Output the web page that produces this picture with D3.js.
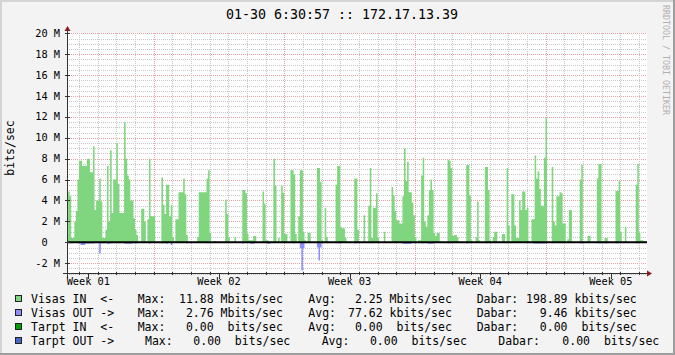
<!DOCTYPE html>
<html>
<head>
<meta charset="utf-8">
<script src="https://cdn.jsdelivr.net/npm/d3@7/dist/d3.min.js"></script>
<style>
  body { margin: 0; background: #f3f3f3; }
  svg text { font-family: "DejaVu Sans Mono", monospace; white-space: pre; }
</style>
</head>
<body>
<div id="chart"></div>
<script>
// traffic in Mbit/s, one value per 2 hours, first step starts 2014-12-30 08:00 UTC
var stepHours = 2;
var startTime = Date.UTC(2014, 11, 30, 8);

var visasIn = [
  0.7,4.85,4.4,0.4,0.4,2.0,3.0,6.0,7.8,7.8,
  7.3,7.3,7.3,8.0,8.0,6.7,6.7,9.2,3.1,4.0,
  4.0,6.1,3.9,0.4,0.4,1.2,7.3,2.0,8.8,2.8,
  6.0,6.0,9.5,5.6,2.8,2.8,2.8,11.5,8.0,6.4,
  6.0,4.0,4.0,2.3,1.2,0.7,0,0,3.2,3.2,
  2.0,0,2.2,8.0,2.5,2.5,2.5,0,0,0,
  0,6.2,3.6,2.7,5.5,5.5,2.5,3.6,0.5,0.1,
  2.2,2.2,4.8,4.8,4.8,6.1,4.6,0.7,0,0,
  0,0,0,0,0.5,4.8,4.8,4.8,4.8,4.8,
  6.1,6.9,0.9,0,0,0.1,0,0,0,0,
  0,0,4.1,2.7,0.5,0,0,0,0.5,0,
  0,0,0,5.0,5.0,4.7,0.8,0.2,0.2,0.2,
  0.6,0.6,0,0,0,0,4.85,3.7,0.2,0.2,
  0,0,0,8.0,5.4,0,0.4,0,5.4,4.75,
  0.8,0.8,0,0,6.9,6.9,6.5,0.8,0,2.5,
  6.9,6.9,1.0,0.2,0,0.9,0.9,0,0,0,
  0,7.1,7.1,5.8,0.2,0,3.3,0.5,0,0,
  0,0,0,5.5,7.3,7.3,1.5,1.35,1.35,0.4,
  0,0,0,0,0,6.1,6.1,1.2,0,0,
  0,2.6,0,0,3.5,7.1,0.4,3.3,3.3,4.7,
  0.4,0,0,0,1.0,0,0,0,0,5.3,
  4.5,3.0,2.1,2.1,1.8,1.8,4.4,9.0,5.9,7.7,
  4.8,4.8,3.8,2.6,0.5,0,0.2,0.2,6.4,8.1,
  2.0,1.5,2.6,5.0,6.0,5.0,0.9,0.6,0.9,0.9,
  0,0,0,0,0,7.9,7.8,7.1,0.6,0.7,
  0.7,0.5,0,0,0,0,0,7.4,7.4,4.5,
  0.2,0,0,0.5,3.9,0.2,0,0,0,7.2,
  7.2,5.0,0.2,0,0.5,1.0,1.0,0,0,0,
  0.8,0.8,0,7.1,1.6,0,4.6,4.6,1.6,0.4,
  0.4,4.05,3.1,4.85,4.85,3.1,3.3,0.1,0,2.2,
  2.2,8.3,6.1,6.8,5.1,3.5,3.5,8.1,11.88,0.1,
  0,0,7.2,2.0,1.6,4.4,4.4,4.8,4.7,1.8,
  1.8,0,0.3,3.1,3.1,0,0,0,0,0,
  6.0,7.4,0,0,0,0.6,0.6,0,0,0,
  0,6.1,7.5,7.5,0,0.1,0.4,0.4,0,0,
  0,0,0,4.9,4.9,5.9,1.0,0,0,1.5,
  0,0,0,0,0,0,5.5,7.5,0.9,0.2,
  0.2,0.1,0.1
];

var visasOut = [
  0.1,0.1,0.1,0.1,0,0,0,0.1,0.1,0.25,
  0.25,0.25,0.12,0.12,0.12,0.12,0.12,0.12,0,0,
  0,1.05,0.1,0.1,0.1,0,0.15,0.15,0.1,0.1,
  0,0,0,0.1,0.1,0,0,0.15,0.15,0.15,
  0.15,0.15,0.1,0.1,0.1,0.1,0,0,0,0,
  0,0,0,0.15,0,0,0,0,0,0,
  0,0.1,0.1,0,0.15,0,0,0.25,0,0,
  0,0,0,0,0,0,0,0.1,0,0,
  0,0,0,0,0,0,0,0,0,0,
  0.1,0.1,0,0,0,0,0,0,0,0,
  0,0,0,0,0,0,0,0,0,0,
  0,0,0,0.1,0,0,0,0,0.15,0.15,
  0.15,0,0,0,0,0,0,0,0,0.15,
  0.15,0,0,0,0,0,0,0,0,0,
  0,0,0,0,0,0.1,0.1,0,0,0,
  0.57,2.71,0.57,0,0,0,0,0,0,0,
  0,0.5,1.75,0.5,0,0,0,0,0,0,
  0,0,0,0.1,0.1,0.1,0,0,0,0,
  0,0,0,0,0,0.1,0.1,0,0,0,
  0,0,0,0,0,0,0.1,0,0,0,
  0,0,0,0,0.05,0,0,0,0,0,
  0,0,0,0,0,0,0.15,0.15,0.15,0.15,
  0.15,0.15,0,0,0,0,0,0,0.1,0.1,
  0,0,0.15,0.15,0.15,0.15,0,0,0,0,
  0,0,0,0,0,0.1,0.1,0,0,0,
  0,0,0,0,0,0,0,0.1,0.1,0,
  0,0,0,0,0,0,0,0,0,0.1,
  0.1,0,0,0,0,0,0,0,0,0,
  0,0,0,0.05,0,0,0,0,0,0,
  0,0,0,0.05,0,0,0,0,0,0,
  0.12,0.12,0.12,0.12,0.12,0.12,0.12,0.12,0.12,0,
  0,0,0.1,0,0,0,0.05,0,0,0,
  0,0,0,0,0,0,0,0,0,0,
  0.1,0.1,0,0,0,0,0,0,0,0,
  0,0.1,0.1,0.1,0,0.1,0.1,0.1,0,0,
  0,0,0,0.1,0.1,0,0,0,0,0,
  0,0,0,0,0,0,0.1,0.1,0,0,
  0,0,0
];

var yTicks = [-2, 0, 2, 4, 6, 8, 10, 12, 14, 16, 18, 20];
var yTickLabels = ["-2 M", "0  ", "2 M", "4 M", "6 M", "8 M", "10 M", "12 M", "14 M", "16 M", "18 M", "20 M"];
var weekLabels = ["Week 01", "Week 02", "Week 03", "Week 04", "Week 05"];

var title = "01-30 6:30:57 :: 172.17.13.39";
var yTitle = "bits/sec";
var watermark = "RRDTOOL / TOBI OETIKER";

var legendNames = ["Visas IN  <-", "Visas OUT ->", "Tarpt IN  <-", "Tarpt OUT ->"];
var legendMax = ["11.88 Mbits/sec", " 2.76 Mbits/sec", " 0.00  bits/sec", " 0.00  bits/sec"];
var legendAvg = [" 2.25 Mbits/sec", "77.62 kbits/sec", " 0.00  bits/sec", " 0.00  bits/sec"];
var legendDabar = ["198.89 kbits/sec", "  9.46 kbits/sec", "  0.00  bits/sec", "  0.00  bits/sec"];

// colours
var inColor = "#7fd67f", outColor = "#8c8cff";
var legendColors = [inColor, outColor, "#00a000", "#4a66c8"];

// layout
var W = 675, H = 355;
var plot = {left: 67, right: 647, top: 33, bottom: 273};

var svg = d3.select("#chart")
  .append("svg")
    .attr("width", W)
    .attr("height", H);

// background with shaded border
svg.append("rect").attr("width", W).attr("height", H).attr("fill", "#f3f3f3");
svg.append("path").attr("d", "M0,0H675V2H2V355H0Z").attr("fill", "#d4d4d4");
svg.append("path").attr("d", "M675,0V355H0V353H673V0Z").attr("fill", "#9e9e9e");

svg.append("rect")
  .attr("x", plot.left).attr("y", plot.top)
  .attr("width", plot.right - plot.left).attr("height", plot.bottom - plot.top)
  .attr("fill", "#ffffff");

var endTime = startTime + visasIn.length * stepHours * 3600e3;
var x = d3.scaleUtc()
  .domain([startTime, endTime])
  .range([66.56, 646.6]);

var y = d3.scaleLinear()
  .domain([-3, 20])
  .range([273.65, 33.3]);

function crisp(v) { return Math.round(v) + 0.5; }

// horizontal grid
var minorY = d3.range(-3, 20.01, 0.5).filter(function(v) { return v % 2 !== 0; });
svg.append("g").selectAll("line").data(minorY).enter().append("line")
  .attr("x1", plot.left).attr("x2", plot.right)
  .attr("y1", function(d) { return crisp(y(d)); })
  .attr("y2", function(d) { return crisp(y(d)); })
  .attr("stroke", "#c8c8c8").attr("stroke-dasharray", "1,1");
svg.append("g").selectAll("line").data(yTicks).enter().append("line")
  .attr("x1", plot.left).attr("x2", plot.right)
  .attr("y1", function(d) { return crisp(y(d)); })
  .attr("y2", function(d) { return crisp(y(d)); })
  .attr("stroke", "#e8a0a0").attr("stroke-dasharray", "1,1");

// vertical grid: days minor, sundays major
var days = d3.utcDay.range(new Date(startTime), new Date(endTime));
var sundays = d3.utcSunday.range(new Date(startTime), new Date(endTime));
svg.append("g").selectAll("line").data(days.filter(function(d) { return d.getUTCDay() !== 0; })).enter().append("line")
  .attr("x1", function(d) { return crisp(x(d)); })
  .attr("x2", function(d) { return crisp(x(d)); })
  .attr("y1", plot.top).attr("y2", plot.bottom)
  .attr("stroke", "#c8c8c8").attr("stroke-dasharray", "1,1");
svg.append("g").selectAll("line").data(sundays).enter().append("line")
  .attr("x1", function(d) { return crisp(x(d)); })
  .attr("x2", function(d) { return crisp(x(d)); })
  .attr("y1", plot.top).attr("y2", plot.bottom)
  .attr("stroke", "#e8a0a0").attr("stroke-dasharray", "1,1");

// areas
svg.append("clipPath").attr("id", "clip")
  .append("rect").attr("x", plot.left + 1).attr("y", plot.top)
  .attr("width", plot.right - plot.left - 1).attr("height", plot.bottom - plot.top);

function steps(values) {
  var pts = values.map(function(v, i) { return {t: startTime + i * stepHours * 3600e3, v: v}; });
  pts.push({t: endTime, v: values[values.length - 1]});
  return pts;
}

var area = d3.area()
  .curve(d3.curveStepAfter)
  .x(function(d) { return x(d.t); })
  .y0(y(0));

svg.append("path")
  .datum(steps(visasIn))
  .attr("clip-path", "url(#clip)")
  .attr("fill", inColor)
  .attr("d", area.y1(function(d) { return y(d.v); }));

svg.append("path")
  .datum(steps(visasOut))
  .attr("clip-path", "url(#clip)")
  .attr("fill", outColor)
  .attr("d", area.y1(function(d) { return y(-d.v); }));

// zero line
svg.append("line")
  .attr("x1", plot.left).attr("x2", plot.right)
  .attr("y1", y(0)).attr("y2", y(0))
  .attr("stroke", "#000").attr("stroke-width", 2);

// axes
var axisColor = "#333";
svg.append("line")
  .attr("x1", plot.left + 0.5).attr("x2", plot.left + 0.5)
  .attr("y1", plot.bottom + 5).attr("y2", 29)
  .attr("stroke", axisColor);
svg.append("line")
  .attr("x1", plot.left - 4).attr("x2", plot.right + 2)
  .attr("y1", plot.bottom + 0.5).attr("y2", plot.bottom + 0.5)
  .attr("stroke", axisColor);
svg.append("path").attr("d", "M64.5,31L67.5,26L70.5,31Z").attr("fill", "#8b1a1a");
svg.append("path").attr("d", "M647,270.5L652,273.5L647,276.5Z").attr("fill", "#8b1a1a");

// y ticks and labels
svg.append("g").selectAll("line").data(yTicks).enter().append("line")
  .attr("x1", plot.left - 2).attr("x2", plot.left + 3)
  .attr("y1", function(d) { return crisp(y(d)); })
  .attr("y2", function(d) { return crisp(y(d)); })
  .attr("stroke", axisColor);

svg.append("g").selectAll("text").data(yTicks).enter().append("text")
  .attr("x", 60)
  .attr("y", function(d) { return y(d) + 3.5; })
  .attr("text-anchor", "end")
  .style("font-size", "10.3px")
  .text(function(d, i) { return yTickLabels[i]; });

// x ticks and week labels, centred in each week
var labelTimes = sundays.map(function(d) { return d3.utcHour.offset(d, -84); });
labelTimes.push(d3.utcHour.offset(sundays[sundays.length - 1], 84));
svg.append("g").selectAll("line").data(days).enter().append("line")
  .attr("x1", function(d) { return crisp(x(d)); })
  .attr("x2", function(d) { return crisp(x(d)); })
  .attr("y1", plot.bottom - 1).attr("y2", plot.bottom + 2)
  .attr("stroke", axisColor);
svg.append("g").selectAll("line").data(labelTimes).enter().append("line")
  .attr("x1", function(d) { return crisp(x(d)); })
  .attr("x2", function(d) { return crisp(x(d)); })
  .attr("y1", plot.bottom).attr("y2", plot.bottom + 6)
  .attr("stroke", axisColor);
svg.append("g").selectAll("text").data(labelTimes).enter().append("text")
  .attr("x", function(d) { return x(d); })
  .attr("y", 285)
  .attr("text-anchor", "middle")
  .style("font-size", "10.3px")
  .text(function(d, i) { return weekLabels[i]; });

// titles
svg.append("text")
  .attr("x", 342).attr("y", 19)
  .attr("text-anchor", "middle")
  .style("font-size", "13.3px")
  .text(title);

svg.append("text")
  .attr("transform", "translate(14,148) rotate(-90)")
  .attr("text-anchor", "middle")
  .style("font-size", "11.5px")
  .text(yTitle);

svg.append("text")
  .attr("transform", "translate(663,5) rotate(90)")
  .style("font-size", "8.3px")
  .attr("fill", "#b0b0b0")
  .text(watermark);

// legend
var legendX = [
  [31, 137.7, 179, 308.3, 348, 476.7, 526],
  [31, 137.7, 179, 308.3, 348, 476.7, 526],
  [31, 137.7, 179, 308.3, 348, 476.7, 526],
  [31, 145, 186.4, 321.7, 363, 498.3, 548.5]
];
var legend = svg.append("g").style("font-size", "11.5px");
legendNames.forEach(function(name, i) {
  var base = 303 + i * 14;
  legend.append("rect")
    .attr("x", 15.5).attr("y", base - 7.5)
    .attr("width", 6).attr("height", 6)
    .attr("fill", legendColors[i]).attr("stroke", "#222");
  var parts = [name, "Max:", legendMax[i], "Avg:", legendAvg[i], "Dabar:", legendDabar[i]];
  parts.forEach(function(p, j) {
    legend.append("text")
      .attr("x", legendX[i][j]).attr("y", base)
      .text(p);
  });
});
</script>
</body>
</html>
